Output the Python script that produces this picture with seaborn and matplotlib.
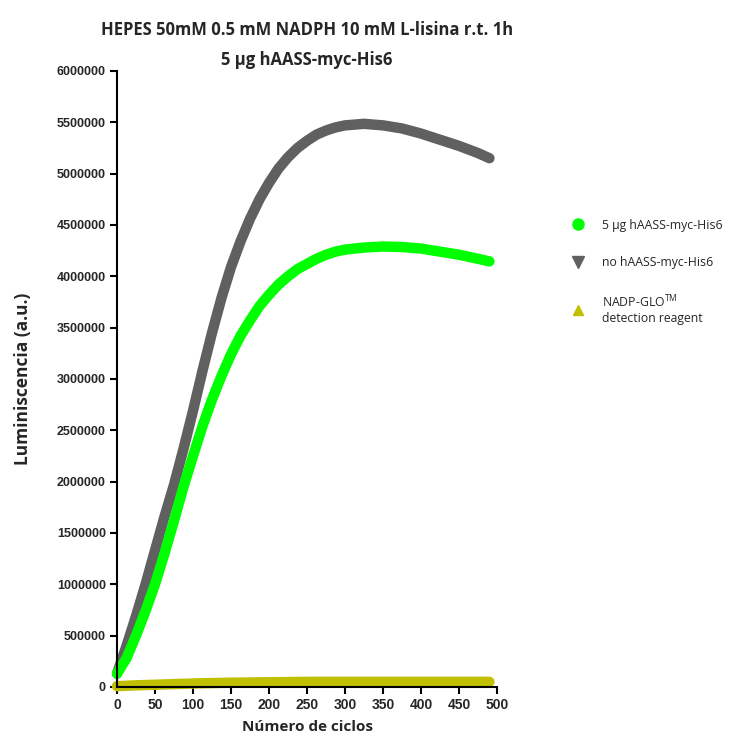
import pandas as pd
import numpy as np
import matplotlib.pyplot as plt
import seaborn as sns
from matplotlib.lines import Line2D

# --- DATA ---
ciclos = [0, 12.5, 25, 37.5, 50, 62.5, 75, 87.5, 100, 112.5, 125, 137.5, 150,
          162.5, 175, 187.5, 200, 212.5, 225, 237.5, 250, 262.5, 275, 287.5, 300,
          325, 350, 375, 400, 425, 450, 475, 490]
con_enzima = [130000, 280000, 500000, 740000, 1000000, 1300000, 1620000, 1950000,
              2250000, 2540000, 2800000, 3030000, 3240000, 3420000, 3570000, 3710000,
              3820000, 3920000, 4000000, 4070000, 4120000, 4170000, 4210000, 4240000,
              4260000, 4280000, 4290000, 4285000, 4270000, 4240000, 4210000, 4170000,
              4145000]
sin_enzima = [130000, 400000, 690000, 1000000, 1330000, 1660000, 1970000, 2320000,
              2690000, 3080000, 3450000, 3790000, 4090000, 4340000, 4560000, 4750000,
              4910000, 5050000, 5160000, 5250000, 5320000, 5380000, 5420000, 5450000,
              5470000, 5485000, 5470000, 5440000, 5390000, 5330000, 5270000, 5200000,
              5150000]
reactivo = [8000, 12000, 16000, 19000, 22000, 25000, 28000, 31000, 34000, 36000,
            38000, 40000, 42000, 43000, 44000, 45000, 46000, 47000, 48000, 49000,
            50000, 50000, 50000, 50000, 50000, 50000, 50000, 50000, 50000, 50000,
            50000, 50000, 50000]

series = ['5 µg hAASS-myc-His6', 'no hAASS-myc-His6', 'NADP-GLO$^{\\mathrm{TM}}$\ndetection reagent']
colores = ['#00ff00', '#606060', '#c0c000']
marcadores = ['o', 'v', '^']

df = pd.DataFrame({
    'ciclo': ciclos * 3,
    'lum': con_enzima + sin_enzima + reactivo,
    'serie': [series[0]] * len(ciclos) + [series[1]] * len(ciclos) + [series[2]] * len(ciclos),
})

sns.set_style('ticks')
plt.rcParams['font.family'] = ['Liberation Sans', 'DejaVu Sans']
plt.rcParams['mathtext.fontset'] = 'custom'
plt.rcParams['mathtext.rm'] = 'Open Sans'

fig = plt.figure(figsize=(7.29, 7.36), dpi=100)
ax = fig.add_axes([0.1605, 0.0666, 0.5213, 0.8370])

# draw order: reagent, no enzyme, with enzyme on top
for idx in [2, 1, 0]:
    sub = df[df['serie'] == series[idx]]
    sns.lineplot(data=sub, x='ciclo', y='lum', color=colores[idx], linewidth=7.5,
                 ax=ax, legend=False, solid_capstyle='round', solid_joinstyle='round',
                 clip_on=False)

ax.set_xlim(0, 500)
ax.set_ylim(0, 6000000)
ax.set_xticks(np.arange(0, 501, 50))
ax.set_yticks(np.arange(0, 6000001, 500000))
ax.ticklabel_format(style='plain', axis='y')
for lbl in ax.get_yticklabels():
    lbl.set_fontweight('bold')
    lbl.set_fontsize(9)
for lbl in ax.get_xticklabels():
    lbl.set_fontweight('bold')
    lbl.set_fontsize(10)
ax.tick_params(axis='both', width=1.5, length=5, color='black', pad=3)
sns.despine(ax=ax)
for s in ['left', 'bottom']:
    ax.spines[s].set_linewidth(1.5)
    ax.spines[s].set_color('black')

ax.set_xlabel('Número de ciclos', fontsize=11, fontweight='bold', family='Open Sans', labelpad=6)
ax.set_ylabel('Luminiscencia (a.u.)', fontsize=12.5, fontweight='bold', family='Open Sans', labelpad=18)
ax.set_title('HEPES 50mM 0.5 mM NADPH 10 mM L-lisina r.t. 1h\n5 µg hAASS-myc-His6',
             fontsize=12, fontweight='bold', family='Open Sans', pad=4, linespacing=1.9)

handles = [Line2D([], [], linestyle='none', marker=m, color=c, markersize=8)
           for m, c in zip(marcadores, colores)]
handles[2].set_markersize(7)
fig.legend(handles, series, loc='upper left', bbox_to_anchor=(0.768, 0.718),
           frameon=False, prop={'family': 'Open Sans', 'size': 8.8},
           labelspacing=2.0, handletextpad=1.35, handlelength=1.2)

plt.savefig('out.png', dpi=100)
plt.close()
